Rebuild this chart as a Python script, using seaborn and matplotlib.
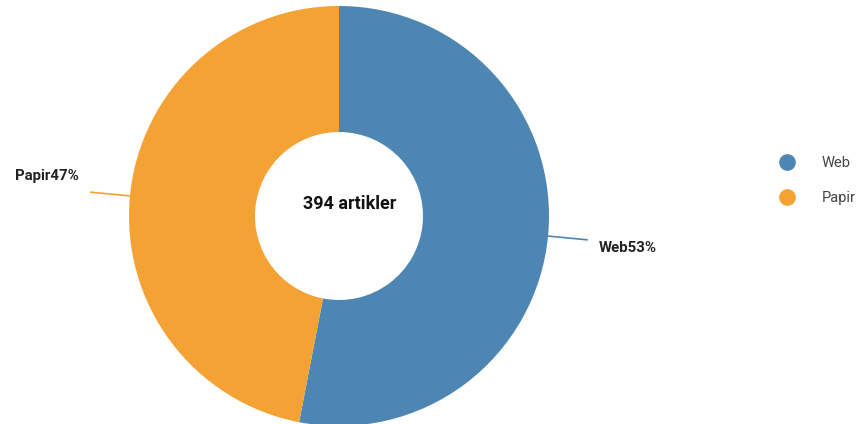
import numpy as np
import matplotlib
matplotlib.use("Agg")
import matplotlib.pyplot as plt
import seaborn as sns
from matplotlib.lines import Line2D

# data
categories = ["Web", "Papir"]
counts = [209, 185]
colors = ["#4e86b3", "#f5a235"]
center_label = "394 artikler"

sns.set_theme(style="white")
plt.rcParams['font.family'] = ['Roboto', 'DejaVu Sans']

W, H = 862, 424
fig = plt.figure(figsize=(W / 100, H / 100), dpi=100)
ax = fig.add_axes([0, 0, 1, 1])

# pixel-like coords, y going up
cx, cy, r_out, r_in = 339, H - 216, 210, 84
wedges, _ = ax.pie(counts, colors=colors, startangle=90, counterclock=False,
                   center=(cx, cy), radius=r_out, frame=True,
                   wedgeprops=dict(width=r_out - r_in, linewidth=0))
ax.set_xlim(0, W)
ax.set_ylim(0, H)
ax.set_aspect('equal')
ax.axis('off')

total = sum(counts)
for w, name, n, col in zip(wedges, categories, counts, colors):
    mid = np.deg2rad((w.theta1 + w.theta2) / 2)
    dx, dy = np.cos(mid), np.sin(mid)
    x0, y0 = cx + r_out * dx, cy + r_out * dy
    x1, y1 = cx + (r_out + 40) * dx, cy + (r_out + 40) * dy
    ax.plot([x0, x1], [y0, y1], color=col, lw=1.2, solid_capstyle='butt')
    pct = round(100 * n / total)
    if dx > 0:
        ax.text(x1 + 11, y1 - 8, f"{name}{pct}%", ha='left', va='center',
                fontsize=10.8, fontweight='bold', color='#222222')
    else:
        ax.text(x1 - 11, y1 + 16, f"{name}{pct}%", ha='right', va='center',
                fontsize=10.8, fontweight='bold', color='#222222')

ax.text(cx + 11, H - 204, center_label, ha='center', va='center', fontsize=13,
        fontweight='bold', color='#111111')

handles = [Line2D([0], [0], marker='o', color='none', markerfacecolor=c,
                  markeredgecolor=c, markersize=11) for c in colors]
ax.legend(handles, categories, loc='upper left', frameon=False,
          bbox_to_anchor=(759 / W, 1 - 143 / H), fontsize=10.5,
          labelcolor='#444444', handletextpad=1.4, labelspacing=1.45)

fig.savefig("out.png", dpi=100)
